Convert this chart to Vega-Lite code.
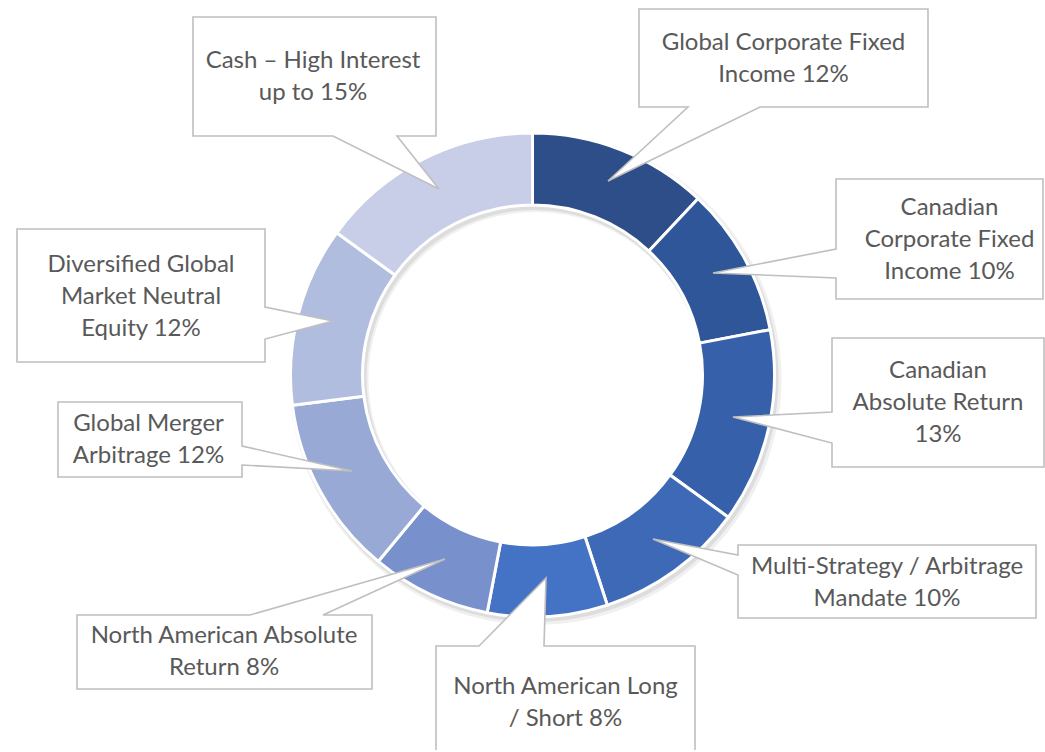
{
  "$schema": "https://vega.github.io/schema/vega-lite/v6.json",
  "width": 1045,
  "height": 750,
  "padding": {"left": 0, "top": 0, "right": 0, "bottom": 2},
  "autosize": {"type": "none"},
  "background": "white",
  "config": {"view": {"stroke": null}},
  "datasets": {
    "segments": [
      {"idx": 1, "name": "Global Corporate Fixed Income", "value": 12},
      {"idx": 2, "name": "Canadian Corporate Fixed Income", "value": 10},
      {"idx": 3, "name": "Canadian Absolute Return", "value": 13},
      {"idx": 4, "name": "Multi-Strategy / Arbitrage Mandate", "value": 10},
      {"idx": 5, "name": "North American Long / Short", "value": 8},
      {"idx": 6, "name": "North American Absolute Return", "value": 8},
      {"idx": 7, "name": "Global Merger Arbitrage", "value": 12},
      {"idx": 8, "name": "Diversified Global Market Neutral Equity", "value": 12},
      {"idx": 9, "name": "Cash – High Interest", "value": 15}
    ],
    "callouts": [
      {"type": "Feature", "properties": {"name": "Global Corporate Fixed Income"}, "geometry": {"type": "Polygon", "coordinates": [[[639,9],[928,9],[928,107],[760,107],[608,181],[688,107],[639,107],[639,9]]]}},
      {"type": "Feature", "properties": {"name": "Canadian Corporate Fixed Income"}, "geometry": {"type": "Polygon", "coordinates": [[[836,179],[1043,179],[1043,299],[836,299],[836,278],[713,273],[836,249],[836,179]]]}},
      {"type": "Feature", "properties": {"name": "Canadian Absolute Return"}, "geometry": {"type": "Polygon", "coordinates": [[[832,338],[1044,338],[1044,467],[832,467],[832,443],[733,417],[832,412],[832,338]]]}},
      {"type": "Feature", "properties": {"name": "Multi-Strategy / Arbitrage Mandate"}, "geometry": {"type": "Polygon", "coordinates": [[[738,545],[1036,545],[1036,618],[738,618],[738,575],[653,539],[738,555],[738,545]]]}},
      {"type": "Feature", "properties": {"name": "North American Long / Short"}, "geometry": {"type": "Polygon", "coordinates": [[[436,646],[479,646],[546,578],[544,646],[695,646],[695,770],[436,770],[436,646]]]}},
      {"type": "Feature", "properties": {"name": "North American Absolute Return"}, "geometry": {"type": "Polygon", "coordinates": [[[77,615],[250,615],[445,559],[323,615],[372,615],[372,689],[77,689],[77,615]]]}},
      {"type": "Feature", "properties": {"name": "Global Merger Arbitrage"}, "geometry": {"type": "Polygon", "coordinates": [[[58,402],[242,402],[242,446],[352,471],[242,465],[242,477],[58,477],[58,402]]]}},
      {"type": "Feature", "properties": {"name": "Diversified Global Market Neutral Equity"}, "geometry": {"type": "Polygon", "coordinates": [[[17,229],[265,229],[265,307],[333,321],[265,339],[265,362],[17,362],[17,229]]]}},
      {"type": "Feature", "properties": {"name": "Cash – High Interest"}, "geometry": {"type": "Polygon", "coordinates": [[[193,17],[436,17],[436,136],[397,136],[439,189],[333,136],[193,136],[193,17]]]}}
    ],
    "labels": [
      {"label": "Global Corporate Fixed\nIncome 12%", "lx": 783.5, "ly": 43},
      {"label": "Canadian\nCorporate Fixed\nIncome 10%", "lx": 949.5, "ly": 208},
      {"label": "Canadian\nAbsolute Return\n13%", "lx": 938, "ly": 371},
      {"label": "Multi-Strategy / Arbitrage\nMandate 10%", "lx": 887, "ly": 567},
      {"label": "North American Long\n/ Short 8%", "lx": 565.5, "ly": 687},
      {"label": "North American Absolute\nReturn 8%", "lx": 224, "ly": 636},
      {"label": "Global Merger\nArbitrage 12%", "lx": 148.5, "ly": 424},
      {"label": "Diversified Global\nMarket Neutral\nEquity 12%", "lx": 141, "ly": 265},
      {"label": "Cash – High Interest\nup to 15%", "lx": 313, "ly": 61}
    ]
  },
  "layer": [
    {
      "data": {"name": "segments"},
      "mark": {"type": "arc", "radius": 246, "radius2": 167, "fill": "#000000", "opacity": 0.06, "xOffset": 13, "yOffset": 4},
      "encoding": {
        "theta": {"field": "value", "type": "quantitative", "stack": true},
        "order": {"field": "idx", "type": "quantitative"}
      }
    },
    {
      "data": {"name": "segments"},
      "mark": {"type": "arc", "radius": 244, "radius2": 168, "fill": "#000000", "opacity": 0.08, "xOffset": 12, "yOffset": 3},
      "encoding": {
        "theta": {"field": "value", "type": "quantitative", "stack": true},
        "order": {"field": "idx", "type": "quantitative"}
      }
    },
    {
      "data": {"name": "segments"},
      "mark": {"type": "arc", "radius": 242, "radius2": 170, "stroke": "white", "strokeWidth": 3, "xOffset": 10},
      "encoding": {
        "theta": {"field": "value", "type": "quantitative", "stack": true},
        "order": {"field": "idx", "type": "quantitative"},
        "color": {
          "field": "name", "type": "nominal", "legend": null,
          "scale": {
            "domain": ["Global Corporate Fixed Income", "Canadian Corporate Fixed Income", "Canadian Absolute Return", "Multi-Strategy / Arbitrage Mandate", "North American Long / Short", "North American Absolute Return", "Global Merger Arbitrage", "Diversified Global Market Neutral Equity", "Cash – High Interest"],
            "range": ["#2E4E89", "#30569A", "#3661AA", "#3D69B7", "#4472C4", "#7890CC", "#98A9D6", "#B1BDDF", "#C9CEE8"]
          }
        }
      }
    },
    {
      "data": {"name": "callouts"},
      "mark": {"type": "geoshape", "fill": "white", "stroke": "#BFBFBF", "strokeWidth": 1.6},
      "projection": {"type": "identity", "scale": 1, "translate": [0, 0]}
    },
    {
      "data": {"name": "labels"},
      "mark": {"type": "text", "align": "center", "baseline": "middle", "lineBreak": "\n", "lineHeight": 32, "font": "Lato", "fontSize": 24, "fill": "#595959"},
      "projection": {"type": "identity", "scale": 1, "translate": [0, 0]},
      "encoding": {
        "longitude": {"field": "lx", "type": "quantitative"},
        "latitude": {"field": "ly", "type": "quantitative"},
        "text": {"field": "label", "type": "nominal"}
      }
    }
  ]
}
